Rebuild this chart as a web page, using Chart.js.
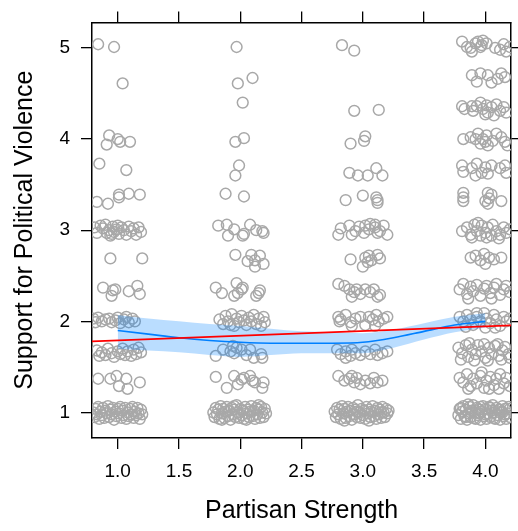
<!DOCTYPE html>
<html>
<head>
<meta charset="utf-8">
<script src="https://cdn.jsdelivr.net/npm/chart.js@4.4.1/dist/chart.umd.min.js"></script>
<style>
  body { margin: 0; background: #fff; }
  canvas { display: block; }
</style>
</head>
<body>
<canvas id="myChart" width="518" height="531"></canvas>
<script>
var xTicks = [1, 1.5, 2, 2.5, 3, 3.5, 4];
var yTicks = [1, 2, 3, 4, 5];
var xRange = [0.79, 4.21];
var yRange = [0.72, 5.28];

// jittered responses, one list per partisan strength level
var strength1 = [
  [0.84,5.04],[0.97,5.01],
  [1.04,4.61],
  [0.93,4.04],[0.91,3.94],[1.00,4.00],[1.02,3.97],[1.10,3.97],
  [0.85,3.73],[1.07,3.66],
  [0.83,3.31],[0.92,3.29],[1.01,3.39],[1.01,3.36],[1.09,3.40],[1.18,3.39],
  [0.81,3.03],[0.83,2.97],[0.86,3.05],[0.88,3.02],[0.90,3.06],[0.91,2.97],[0.93,3.00],[0.94,2.94],[0.96,3.04],[0.97,2.98],[0.99,3.01],[1.01,2.96],[1.03,3.03],[1.05,3.00],[1.07,2.95],[1.09,3.04],[1.11,2.99],[1.13,3.02],[1.15,2.95],[1.17,3.03],[1.19,2.98],[0.95,2.96],[1.00,3.05],
  [0.94,2.69],[1.20,2.69],
  [0.88,2.37],[0.96,2.34],[0.98,2.35],[0.95,2.28],[1.09,2.33],[1.16,2.39],[1.18,2.30],
  [0.80,2.03],[0.82,1.99],[0.84,2.04],[0.87,2.00],[0.90,2.02],[0.93,2.03],[0.95,1.99],[0.98,2.01],[1.00,2.04],[1.02,1.98],[1.05,2.02],[1.07,2.05],[1.09,1.99],[1.12,2.03],[1.14,2.00],
  [0.83,1.68],[0.85,1.62],[0.87,1.66],[0.90,1.63],[0.92,1.70],[0.95,1.65],[0.97,1.61],[1.00,1.67],[1.02,1.64],[1.04,1.70],[1.06,1.63],[1.08,1.67],[1.11,1.62],[1.13,1.69],[1.15,1.64],[1.17,1.71],[1.19,1.66],
  [0.84,1.37],[0.94,1.37],[0.99,1.40],[1.01,1.29],[1.07,1.37],[1.08,1.26],[1.18,1.33],
  [0.80,1.00],[0.81,0.95],[0.82,1.04],[0.83,0.98],[0.84,1.06],[0.85,0.93],[0.86,1.01],[0.87,0.97],[0.88,1.05],[0.89,0.94],[0.90,1.02],[0.91,0.99],[0.92,1.07],[0.93,0.95],[0.94,1.03],[0.95,0.98],[0.96,1.05],[0.97,0.92],[0.98,1.01],[0.99,0.96],[1.00,1.04],[1.01,0.99],[1.02,1.06],[1.03,0.94],[1.04,1.02],[1.05,0.97],[1.06,1.05],[1.07,0.93],[1.08,1.00],[1.09,0.96],[1.10,1.04],[1.11,0.98],[1.12,1.06],[1.13,0.94],[1.14,1.01],[1.15,0.97],[1.16,1.05],[1.17,0.99],[1.18,0.93],[1.19,1.03],[1.20,0.98]
];
var strength2 = [
  [1.97,5.01],
  [1.98,4.61],[2.10,4.67],
  [2.02,4.40],
  [1.96,3.97],[2.03,4.01],
  [1.99,3.71],[1.96,3.60],
  [1.88,3.40],[2.03,3.37],
  [1.82,3.05],[1.89,3.06],[1.90,2.94],[1.95,3.01],[2.02,2.94],[2.03,2.96],[2.08,3.06],[2.13,3.00],[2.18,2.99],[2.19,2.97],
  [1.96,2.73],[2.06,2.66],[2.09,2.73],[2.12,2.60],[2.16,2.72],[2.19,2.63],[2.12,2.67],
  [1.80,2.37],[1.85,2.31],[1.95,2.28],[1.97,2.42],[1.98,2.31],[2.01,2.35],[2.02,2.37],[2.13,2.28],[2.16,2.34],[2.15,2.31],
  [1.83,2.02],[1.86,1.97],[1.88,2.06],[1.90,2.00],[1.93,2.08],[1.95,1.95],[1.97,2.03],[1.99,1.99],[2.01,2.06],[2.03,2.01],[2.05,1.96],[2.07,2.04],[2.09,2.00],[2.11,2.07],[2.13,1.97],[2.15,2.03],[2.17,1.95],[2.19,2.05],[2.20,1.99],[1.92,1.96],
  [1.80,1.62],[1.86,1.69],[1.94,1.73],[1.95,1.65],[2.01,1.69],[2.05,1.63],[2.08,1.69],[2.11,1.60],[2.18,1.60],[2.17,1.64],[1.92,1.67],[1.97,1.71],
  [1.80,1.39],[1.89,1.27],[1.95,1.40],[1.98,1.31],[2.03,1.38],[2.08,1.40],[2.10,1.35],[2.12,1.33],[2.19,1.33],[2.18,1.27],[2.01,1.36],
  [1.78,1.00],[1.79,0.95],[1.80,1.05],[1.81,0.98],[1.82,1.03],[1.83,0.93],[1.84,1.07],[1.85,0.99],[1.86,1.04],[1.87,0.94],[1.88,1.01],[1.89,1.06],[1.90,0.96],[1.91,1.02],[1.92,0.92],[1.93,1.05],[1.94,0.98],[1.95,1.03],[1.96,0.95],[1.97,1.08],[1.98,1.00],[1.99,0.94],[2.00,1.04],[2.01,0.97],[2.02,1.02],[2.03,0.93],[2.04,1.06],[2.05,0.99],[2.06,1.03],[2.07,0.95],[2.08,1.01],[2.09,1.07],[2.10,0.96],[2.11,1.02],[2.12,0.93],[2.13,1.05],[2.14,0.98],[2.15,1.03],[2.16,0.94],[2.17,1.06],[2.18,1.00],[2.19,0.95],[2.20,1.04],[2.21,0.99],[1.85,0.92],[1.95,1.07],[2.05,0.92],[2.15,1.08]
];
var strength3 = [
  [2.83,5.03],[2.93,4.97],
  [2.93,4.31],[3.13,4.32],
  [2.90,3.95],[3.01,3.98],[3.02,4.03],
  [2.89,3.63],[2.96,3.60],[3.04,3.60],[3.11,3.68],[3.16,3.60],
  [2.86,3.33],[3.00,3.38],[3.11,3.36],[3.12,3.33],[3.12,3.30],
  [2.82,3.02],[2.89,3.05],[2.91,2.95],[2.97,3.04],[3.01,2.97],[3.06,3.07],[3.10,3.03],[3.12,2.97],[3.17,3.05],[3.20,2.95],[3.05,3.01],[2.94,2.99],[2.80,2.95],[3.14,2.99],[3.02,3.05],[3.10,3.06],
  [2.90,2.68],[3.02,2.70],[3.05,2.72],[3.07,2.67],[3.12,2.73],[3.14,2.69],[3.00,2.60],[3.04,2.65],
  [2.80,2.41],[2.85,2.39],[2.89,2.35],[2.93,2.32],[2.95,2.35],[2.98,2.30],[3.02,2.35],[3.06,2.32],[3.09,2.35],[3.12,2.27],[3.14,2.29],[2.91,2.27],
  [2.80,2.05],[2.82,2.02],[2.86,2.07],[2.90,1.99],[2.94,2.03],[2.98,2.05],[3.02,1.96],[3.05,2.05],[3.08,2.02],[3.11,2.07],[3.13,2.00],[3.17,2.03],[3.20,2.05],[3.10,1.95],[2.91,1.95],[2.81,2.00],
  [2.79,1.69],[2.82,1.64],[2.86,1.67],[2.90,1.62],[2.94,1.65],[2.98,1.63],[3.02,1.67],[3.06,1.64],[3.10,1.69],[3.12,1.63],[3.16,1.65],[3.20,1.67],[2.91,1.69],[2.86,1.60],
  [2.80,1.40],[2.85,1.35],[2.89,1.37],[2.93,1.33],[2.95,1.38],[3.02,1.35],[3.06,1.32],[3.09,1.38],[3.12,1.33],[3.16,1.35],[2.98,1.31],[2.91,1.40],
  [2.77,1.01],[2.78,0.95],[2.79,1.05],[2.80,0.98],[2.81,1.03],[2.82,0.93],[2.83,1.07],[2.84,0.99],[2.85,1.04],[2.86,0.94],[2.87,1.01],[2.88,1.06],[2.89,0.96],[2.90,1.02],[2.91,0.92],[2.92,1.05],[2.93,0.98],[2.94,1.03],[2.95,0.95],[2.96,1.08],[2.97,1.00],[2.98,0.94],[2.99,1.04],[3.00,0.97],[3.01,1.02],[3.02,0.93],[3.03,1.06],[3.04,0.99],[3.05,1.03],[3.06,0.95],[3.07,1.01],[3.08,1.07],[3.09,0.96],[3.10,1.02],[3.11,0.93],[3.12,1.05],[3.13,0.98],[3.14,1.03],[3.15,0.94],[3.16,1.06],[3.17,1.00],[3.18,0.95],[3.19,1.04],[3.20,0.99],[3.21,1.02],[2.85,0.91],[2.95,1.01],[3.05,0.91],[3.15,1.00]
];
var strength4 = [
  [3.81,5.07],[3.85,5.01],[3.89,4.96],[3.92,5.05],[3.94,5.07],[3.97,5.03],[3.98,5.08],[4.01,5.05],[3.88,5.00],[4.08,5.00],[4.12,4.98],[4.15,5.04],[4.17,4.96],[4.20,5.01],[3.96,5.01],
  [3.89,4.70],[3.93,4.63],[3.96,4.72],[4.02,4.70],[4.05,4.62],[4.10,4.66],[4.13,4.72],[4.16,4.68],
  [3.81,4.36],[3.83,4.33],[3.90,4.31],[3.93,4.36],[3.96,4.40],[3.98,4.33],[4.01,4.37],[4.02,4.29],[4.05,4.35],[4.09,4.38],[4.12,4.31],[4.15,4.35],[4.17,4.29],[4.00,4.27],[3.89,4.36],[4.07,4.26],
  [3.82,4.00],[3.88,4.02],[3.92,4.00],[3.94,4.06],[3.96,3.95],[3.98,4.00],[4.01,4.04],[4.02,3.93],[4.06,3.98],[4.09,4.06],[4.13,4.02],[4.16,3.97],[4.18,3.93],[4.00,3.97],
  [3.81,3.71],[3.82,3.64],[3.89,3.68],[3.93,3.73],[3.97,3.63],[4.00,3.69],[4.02,3.62],[4.05,3.71],[4.12,3.68],[4.16,3.71],[4.17,3.63],[3.92,3.60],
  [3.82,3.41],[3.82,3.36],[3.82,3.32],[4.02,3.41],[4.03,3.35],[4.02,3.29],[4.05,3.39],[4.13,3.32],[4.00,3.32],
  [3.81,2.99],[3.85,3.03],[3.88,2.95],[3.91,3.06],[3.93,2.99],[3.96,2.94],[3.97,3.05],[4.00,2.97],[4.02,3.03],[4.05,2.94],[4.06,3.06],[4.09,2.99],[4.12,2.95],[4.15,3.03],[4.17,2.97],[4.20,3.01],[3.89,2.92],[4.01,2.92],[3.94,3.08],[4.11,2.91],
  [3.88,2.70],[3.92,2.72],[3.96,2.67],[3.99,2.74],[4.00,2.63],[4.03,2.70],[4.07,2.68],[4.13,2.70],
  [3.79,2.35],[3.82,2.41],[3.85,2.30],[3.88,2.38],[3.90,2.33],[3.93,2.40],[3.96,2.28],[3.99,2.36],[4.01,2.39],[4.04,2.31],[4.07,2.37],[4.09,2.41],[4.12,2.29],[4.15,2.35],[4.17,2.39],[4.20,2.32],[3.86,2.25],[4.05,2.25],
  [3.79,2.05],[3.82,2.00],[3.85,2.07],[3.88,2.02],[3.90,1.96],[3.93,2.05],[3.96,2.00],[3.99,2.09],[4.01,2.03],[4.04,1.98],[4.07,2.07],[4.09,2.02],[4.12,1.95],[4.15,2.05],[4.17,2.00],[4.20,2.03],[3.84,1.94],[4.00,1.93],[4.08,1.93],[3.93,2.09],
  [3.78,1.71],[3.81,1.65],[3.84,1.74],[3.86,1.61],[3.89,1.69],[3.92,1.64],[3.94,1.74],[3.97,1.67],[4.00,1.60],[4.03,1.71],[4.05,1.64],[4.08,1.73],[4.11,1.62],[4.14,1.68],[4.16,1.72],[4.19,1.64],[3.80,1.58],[3.91,1.57],[4.02,1.57],[4.13,1.58],[3.87,1.76],[3.99,1.75],[4.10,1.75],[4.20,1.60],
  [3.79,1.38],[3.82,1.33],[3.85,1.42],[3.88,1.29],[3.90,1.37],[3.93,1.32],[3.96,1.40],[3.99,1.27],[4.01,1.35],[4.04,1.39],[4.07,1.30],[4.09,1.37],[4.12,1.42],[4.15,1.32],[4.17,1.38],[4.20,1.29],[3.86,1.26],[4.03,1.26],[4.11,1.26],[3.97,1.44],
  [3.78,0.97],[3.79,1.04],[3.80,0.93],[3.81,1.01],[3.82,1.07],[3.83,0.96],[3.84,1.03],[3.85,0.92],[3.86,0.99],[3.87,1.06],[3.88,0.95],[3.89,1.02],[3.90,1.08],[3.91,0.94],[3.92,1.00],[3.93,1.05],[3.94,0.97],[3.95,1.03],[3.96,0.92],[3.97,1.01],[3.98,1.07],[3.99,0.96],[4.00,1.04],[4.01,0.93],[4.02,0.99],[4.03,1.06],[4.04,0.95],[4.05,1.02],[4.06,1.08],[4.07,0.94],[4.08,1.00],[4.09,1.05],[4.10,0.97],[4.11,1.03],[4.12,0.92],[4.13,1.01],[4.14,1.07],[4.15,0.96],[4.16,1.04],[4.17,0.93],[4.18,0.99],[4.19,1.06],[4.20,0.95],[3.80,1.05],[3.84,0.95],[3.88,1.00],[3.92,0.93],[3.96,1.06],[4.00,0.98],[4.04,1.05],[4.08,0.93],[4.12,1.03],[4.16,0.98],[4.20,1.04],[3.86,1.09],[3.95,0.99],[4.06,1.00],[4.14,1.00]
];

// loess fit with its confidence band, and the linear fit
var smoothX = [1, 1.25, 1.5, 1.75, 2, 2.25, 2.5, 2.75, 3, 3.25, 3.5, 3.75, 4];
var smoothY = [1.90, 1.86, 1.82, 1.79, 1.77, 1.76, 1.76, 1.76, 1.77, 1.82, 1.89, 1.96, 2.00];
var smoothLow = [1.70, 1.68, 1.66, 1.63, 1.61, 1.63, 1.65, 1.65, 1.65, 1.71, 1.80, 1.88, 1.93];
var smoothHigh = [2.07, 2.03, 2.00, 1.97, 1.95, 1.92, 1.89, 1.88, 1.87, 1.91, 1.98, 2.05, 2.09];
var linearX = [0.79, 4.21];
var linearY = [1.78, 1.955];

function pts(list) { return list.map(function (p) { return {x: p[0], y: p[1]}; }); }
function curve(xs, ys) { return xs.map(function (x, i) { return {x: x, y: ys[i]}; }); }

Chart.defaults.font.family = "'Liberation Sans', Arial, sans-serif";
Chart.defaults.color = '#000';

function axis(position, range, ticks, size, labels) {
  return {
    type: 'linear',
    position: position,
    min: range[0],
    max: range[1],
    afterBuildTicks: function (s) { s.ticks = ticks.map(function (v) { return {value: v}; }); },
    afterFit: function (s) {
      if (position === 'top' || position === 'bottom') s.height = size; else s.width = size;
    },
    grid: { drawOnChartArea: false, drawTicks: true, tickLength: 11, color: '#000', lineWidth: 1.3 },
    border: { display: true, color: '#000', width: 1.5 },
    ticks: { display: labels, autoSkip: false, maxRotation: 0, font: { size: 19 }, color: '#000' }
  };
}

var xAxis = axis('bottom', xRange, xTicks, 93, true);
xAxis.ticks.padding = 11;
xAxis.ticks.callback = function (v) { return v.toFixed(1); };
xAxis.title = { display: true, text: 'Partisan Strength', font: { size: 25 }, color: '#000', padding: { top: 0, bottom: 5 } };

var yAxis = axis('left', yRange, yTicks, 92, true);
yAxis.ticks.padding = 11;
yAxis.ticks.callback = function (v) { return String(v); };
yAxis.title = { display: true, text: 'Support for Political Violence', font: { size: 25 }, color: '#000', padding: { top: 10, bottom: 0 } };

var ctx = document.getElementById('myChart').getContext('2d');
var myChart = new Chart(ctx, {
  type: 'scatter',
  data: {
    datasets: [{
        type: 'line',
        data: curve(linearX, linearY),
        borderColor: '#ff0000',
        borderWidth: 1.8,
        pointRadius: 0,
        showLine: true,
        fill: false,
        clip: 0,
        order: 0
      }, {
        type: 'line',
        data: curve(smoothX, smoothY),
        borderColor: '#0080ff',
        borderWidth: 1.6,
        pointRadius: 0,
        showLine: true,
        cubicInterpolationMode: 'monotone',
        fill: false,
        clip: 0,
        order: 1
      }, {
        type: 'line',
        data: curve(smoothX, smoothLow),
        borderWidth: 0,
        borderColor: 'rgba(0,0,0,0)',
        pointRadius: 0,
        showLine: true,
        cubicInterpolationMode: 'monotone',
        fill: false,
        clip: 0,
        order: 2
      }, {
        type: 'line',
        data: curve(smoothX, smoothHigh),
        borderWidth: 0,
        borderColor: 'rgba(0,0,0,0)',
        backgroundColor: 'rgba(0,128,255,0.27)',
        pointRadius: 0,
        showLine: true,
        cubicInterpolationMode: 'monotone',
        fill: '-1',
        clip: 0,
        order: 2
      }, {
        data: pts([].concat(strength1, strength2, strength3, strength4)),
        pointRadius: 5.4,
        pointBorderWidth: 1.5,
        borderColor: '#a8a8a8',
        backgroundColor: 'rgba(0,0,0,0)',
        clip: 0,
        order: 3
      }
    ]
  },
  options: {
    responsive: false,
    animation: false,
    layout: { padding: 0 },
    plugins: {
      legend: { display: false },
      tooltip: { enabled: false }
    },
    scales: {
      x: xAxis,
      y: yAxis,
      x2: axis('top', xRange, xTicks, 17, false),
      y2: axis('right', yRange, yTicks, 5, false)
    }
  }
});
</script>
</body>
</html>
